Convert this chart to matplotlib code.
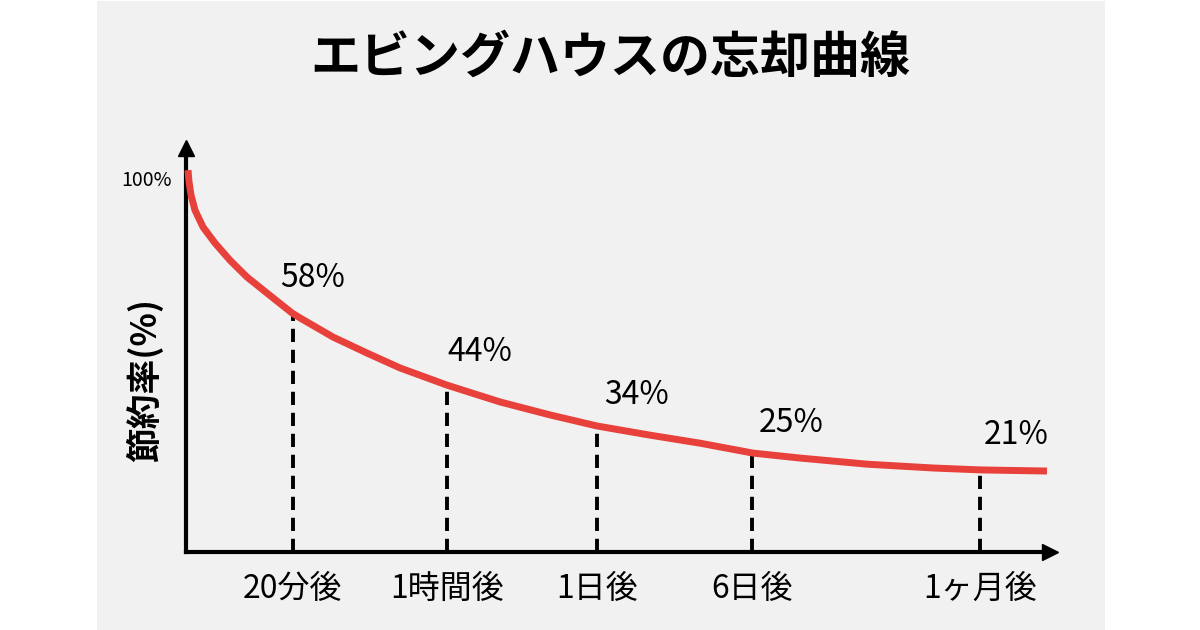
import matplotlib
matplotlib.use("Agg")
import matplotlib.pyplot as plt
from matplotlib.patches import Rectangle

plt.rcParams['font.family'] = ['Noto Sans CJK JP', 'DejaVu Sans']

# curve: x = position along time axis, y = % of axis height
curve_x = [2, 3, 5, 9, 17, 29, 44, 61, 81, 106, 114, 147, 181, 214, 261, 314, 364,
           411, 464, 514, 567, 614, 681, 747, 794, 861]
curve_y = [100.0, 97.0, 93.5, 89.5, 85.1, 80.9, 76.4, 72.0, 67.8, 62.6, 61.3, 56.3, 52.1,
           48.2, 43.7, 39.3, 35.9, 33.0, 30.6, 28.5, 25.9, 24.6, 23.0, 22.0, 21.5, 21.2]

# marked points
mark_x = [107, 261, 411, 566, 794]
mark_y = [62.4, 43.7, 33.0, 25.9, 21.5]
mark_labels = ['58%', '44%', '34%', '25%', '21%']
tick_labels = ['20分後', '1時間後', '1日後', '6日後', '1ヶ月後']

title = 'エビングハウスの忘却曲線'
ylabel = '節約率(%)'

# label placement relative to the marked point, in pixels
lab_dx = [20, 33, 40, 39, 36]
lab_dy = [36, 33, 31, 30, 35]

W, H = 1200, 630
fig = plt.figure(figsize=(12, 6.3), dpi=100, facecolor='white')

# grey panel behind the chart
fig.patches.append(Rectangle((97 / W, 0), (1105 - 97) / W, 629 / H,
                             transform=fig.transFigure, facecolor='#f1f1f1',
                             edgecolor='none', zorder=-5))

ax = fig.add_axes([186 / W, (H - 552) / H, (1050 - 186) / W, (552 - 148) / H])
ax.set_facecolor('none')
ax.set_xlim(0, 864)
ax.set_ylim(0, 105.8)

for s in ['top', 'right']:
    ax.spines[s].set_visible(False)
for s in ['left', 'bottom']:
    ax.spines[s].set_linewidth(3)
    ax.spines[s].set_color('black')
ax.plot(1, 0, '>k', markersize=11, transform=ax.get_yaxis_transform(), clip_on=False)
ax.plot(0, 1, '^k', markersize=11, transform=ax.get_xaxis_transform(), clip_on=False)

# dashed drop lines
for x, y in zip(mark_x, mark_y):
    ax.plot([x, x], [0, y], color='black', lw=2.8, ls=(0, (3.4, 2.0)), zorder=2)

ax.plot(curve_x, curve_y, color='#e8403a', lw=5, solid_capstyle='butt',
        solid_joinstyle='round', zorder=3, clip_on=False)

px2pt = 72 / 100
for x, y, lab, dx, dy in zip(mark_x, mark_y, mark_labels, lab_dx, lab_dy):
    ax.annotate(lab, (x, y), xytext=(dx * px2pt, dy * px2pt), textcoords='offset points',
                ha='center', va='center', fontsize=23)

ax.set_xticks(mark_x, tick_labels, fontsize=23)
ax.tick_params(axis='x', length=0, pad=15)
ax.set_yticks([])

fig.text(172 / W, 1 - 181 / H, '100%', ha='right', va='center', fontsize=14)
fig.text(145 / W, 1 - 380 / H, ylabel, rotation=90, ha='center', va='center', fontsize=25,
         fontweight='bold')
fig.text(610 / W, 1 - 58 / H, title, ha='center', va='center', fontsize=36, fontweight='bold')

fig.savefig('out.png', dpi=100, facecolor='white')
